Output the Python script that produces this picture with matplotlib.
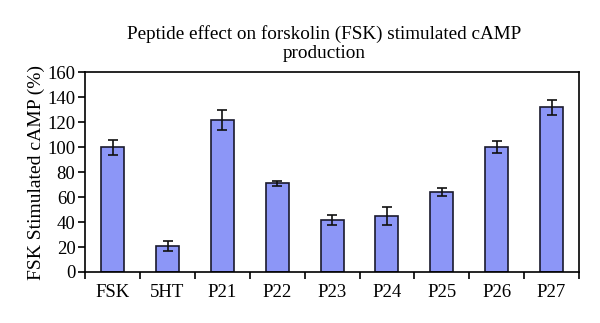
import numpy as np
import matplotlib
matplotlib.use('Agg')
import matplotlib.pyplot as plt

plt.rcParams['font.family'] = ['Liberation Serif', 'DejaVu Serif']

labels = ['FSK', '5HT', 'P21', 'P22', 'P23', 'P24', 'P25', 'P26', 'P27']
values = [100, 21, 122, 71, 42, 45, 64, 100, 132]
errors = [6, 4, 8, 2, 4, 7, 3, 5, 6]

fig = plt.figure(figsize=(6, 3.23), dpi=100)
ax = fig.add_axes([0.142, 0.158, 0.823, 0.618])

x = np.arange(len(labels))
ax.bar(x, values, width=0.42, color='#8c96f7', edgecolor='#1a1a2e', linewidth=1.2,
       yerr=errors, capsize=3.5, error_kw=dict(ecolor='#111111', elinewidth=1.2, capthick=1.2))

ax.set_xlim(-0.5, len(labels) - 0.5)
ax.set_ylim(0, 160)
ax.set_yticks(np.arange(0, 161, 20))
ax.set_xticks(x)
ax.set_xticklabels(labels, fontsize=13.5)
ax.tick_params(axis='x', length=0, pad=9)
ax.set_xticks(np.arange(-0.5, len(labels), 1), minor=True)
ax.tick_params(axis='x', which='minor', length=5, width=1.2, direction='out')
ax.tick_params(axis='y', labelsize=13.5, length=5, width=1.2, direction='out', pad=2)
for s in ax.spines.values():
    s.set_linewidth(1.2)

ax.set_ylabel('FSK Stimulated cAMP (%)', fontsize=14, labelpad=2)
fig.text(0.54, 0.865, 'Peptide effect on forskolin (FSK) stimulated cAMP\nproduction',
         ha='center', va='center', fontsize=13.8, linespacing=1.1)

fig.savefig('out.png', dpi=100)
